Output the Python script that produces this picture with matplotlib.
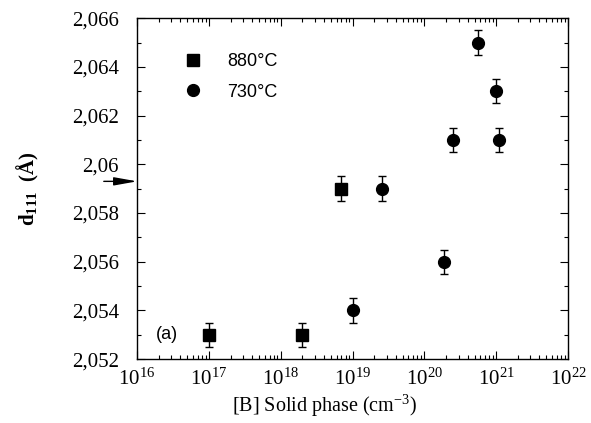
import numpy as np
import matplotlib
matplotlib.use("Agg")
from matplotlib import pyplot as plt
from matplotlib.lines import Line2D
from matplotlib.ticker import FixedLocator, MultipleLocator, LogLocator, NullFormatter

plt.rcParams['font.family'] = ['Liberation Serif', 'DejaVu Serif']
plt.rcParams['mathtext.fontset'] = 'custom'
plt.rcParams['mathtext.rm'] = 'Liberation Serif'
plt.rcParams['mathtext.it'] = 'Liberation Serif:italic'
plt.rcParams['mathtext.bf'] = 'Liberation Serif:bold'

# data
b_880 = [1.0e17, 2.0e18, 7.0e18]
d_880 = [2.053, 2.053, 2.059]
b_730 = [1.0e19, 2.6e19, 1.85e20, 2.5e20, 5.5e20, 1.0e21, 1.1e21]
d_730 = [2.054, 2.059, 2.056, 2.061, 2.065, 2.063, 2.061]
err = 0.0005
arrow_y = 2.0593

yticks = [2.052, 2.054, 2.056, 2.058, 2.06, 2.062, 2.064, 2.066]
ylabels = ['2,052', '2,054', '2,056', '2,058', '2,06', '2,062', '2,064', '2,066']

fig = plt.figure(figsize=(5.91, 4.23), dpi=100)
ax = fig.add_axes([0.232, 0.151, 0.729, 0.806])

ax.errorbar(b_880, d_880, yerr=err, fmt='s', color='black', ms=8,
            capsize=3, elinewidth=1, capthick=1)
ax.errorbar(b_730, d_730, yerr=err, fmt='o', color='black', ms=8.5,
            capsize=3, elinewidth=1, capthick=1)

ax.set_xscale('log')
ax.set_xlim(1e16, 1e22)
ax.set_ylim(2.052, 2.066)

ax.xaxis.set_major_locator(LogLocator(base=10, numticks=10))
ax.xaxis.set_minor_locator(LogLocator(base=10, subs=np.arange(2, 10), numticks=20))
ax.xaxis.set_minor_formatter(NullFormatter())
ax.yaxis.set_major_locator(FixedLocator(yticks))
ax.set_yticklabels(ylabels)
ax.yaxis.set_minor_locator(MultipleLocator(0.001))

ax.tick_params(which='both', direction='in', top=True, right=True,
               labelsize=15, width=0.8)
ax.tick_params(which='major', length=6)
ax.tick_params(which='minor', length=3)
ax.tick_params(axis='x', pad=7)
ax.tick_params(axis='y', pad=13)
for s in ax.spines.values():
    s.set_linewidth(1)

ax.set_xlabel('[B] Solid phase (cm$^{-3}$)', fontsize=14.5)
ax.xaxis.set_label_coords(0.434, -0.1)
ax.set_ylabel(r'$\mathbf{d_{111}}$  (Å)', fontsize=15, fontweight='bold', labelpad=22)

handles = [Line2D([], [], ls='none', marker='s', color='black', ms=8),
           Line2D([], [], ls='none', marker='o', color='black', ms=8.5)]
ax.legend(handles, ['880°C', '730°C'], loc='upper left',
          bbox_to_anchor=(0.05, 0.945), frameon=False,
          handletextpad=0.9, labelspacing=0.75,
          prop={'family': 'Liberation Sans', 'size': 13})

ax.text(0.043, 0.058, '(a)', transform=ax.transAxes, fontsize=13,
        family='Liberation Sans')

ax.annotate('', xy=(0, arrow_y), xycoords=('axes fraction', 'data'),
            xytext=(-24, 0), textcoords='offset points', annotation_clip=False,
            arrowprops=dict(arrowstyle='-|>,head_length=1.4,head_width=0.25',
                            color='black', lw=1, shrinkA=0, shrinkB=0))

fig.savefig('out.png', dpi=100)
